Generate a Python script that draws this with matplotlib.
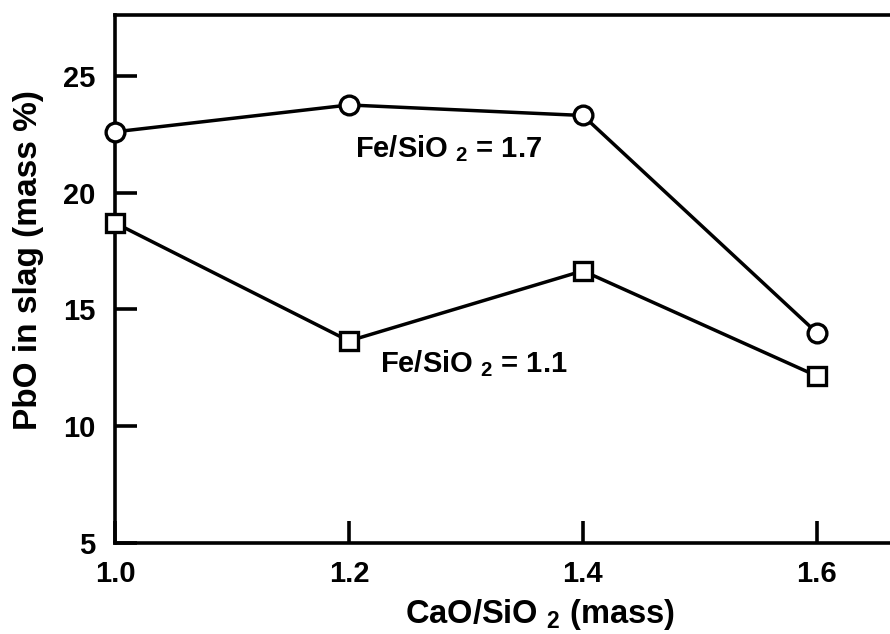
import matplotlib
matplotlib.use("Agg")
import matplotlib.pyplot as plt

plt.rcParams['font.family'] = ['Liberation Sans', 'DejaVu Sans']
plt.rcParams['font.weight'] = 'bold'
plt.rcParams['mathtext.fontset'] = 'custom'
plt.rcParams['mathtext.rm'] = 'Liberation Sans:bold'
plt.rcParams['mathtext.it'] = 'Liberation Sans:bold'
plt.rcParams['mathtext.bf'] = 'Liberation Sans:bold'
plt.rcParams['mathtext.default'] = 'rm'

cao_sio2 = [1.0, 1.2, 1.4, 1.6]
pbo_fe17 = [22.6, 23.75, 23.3, 14.0]
pbo_fe11 = [18.7, 13.65, 16.65, 12.15]
x_ticks = [1.0, 1.2, 1.4, 1.6]
x_ticklabels = ["1.0", "1.2", "1.4", "1.6"]
y_ticks = [5, 10, 15, 20, 25]
y_ticklabels = ["5", "10", "15", "20", "25"]
label_fe17 = r"Fe/SiO $_2$ = 1.7"
label_fe11 = r"Fe/SiO $_2$ = 1.1"
xlabel = r"CaO/SiO $_2$ (mass)"
ylabel = "PbO in slag (mass %)"

fig = plt.figure(figsize=(8.9, 6.34), dpi=100)
ax = fig.add_axes([0.1292, 0.1435, 0.920, 0.8328])
ax.set_xlim(1.0, 1.7)
ax.set_ylim(5, 27.6)

lw = 2.5
ax.plot(cao_sio2, pbo_fe17, color='black', lw=lw, marker='o', ms=13.5,
        mfc='white', mec='black', mew=2.4, clip_on=False, zorder=3)
ax.plot(cao_sio2, pbo_fe11, color='black', lw=lw, marker='s', ms=13,
        mfc='white', mec='black', mew=2.4, clip_on=False, zorder=3)

ax.text(1.205, 21.53, label_fe17, fontsize=21, fontweight='bold', va='baseline', ha='left')
ax.text(1.2265, 12.31, label_fe11, fontsize=21, fontweight='bold', va='baseline', ha='left')

for s in ax.spines.values():
    s.set_linewidth(2.6)
ax.spines['right'].set_visible(False)

ax.set_xticks(x_ticks)
ax.set_xticklabels(x_ticklabels)
ax.set_yticks(y_ticks)
ax.set_yticklabels(y_ticklabels)
ax.tick_params(direction='in', length=16, width=2.6, labelsize=21)
ax.tick_params(axis='x', pad=12)
ax.tick_params(axis='y', pad=14)
for lab in ax.get_xticklabels() + ax.get_yticklabels():
    lab.set_fontweight('bold')

ax.set_xlabel(xlabel, fontsize=23.5, fontweight='bold')
ax.set_ylabel(ylabel, fontsize=24, fontweight='bold')
ax.xaxis.set_label_coords(0.519, -0.102)
ax.yaxis.set_label_coords(-0.087, 0.536)

fig.savefig("out.png", dpi=100)
